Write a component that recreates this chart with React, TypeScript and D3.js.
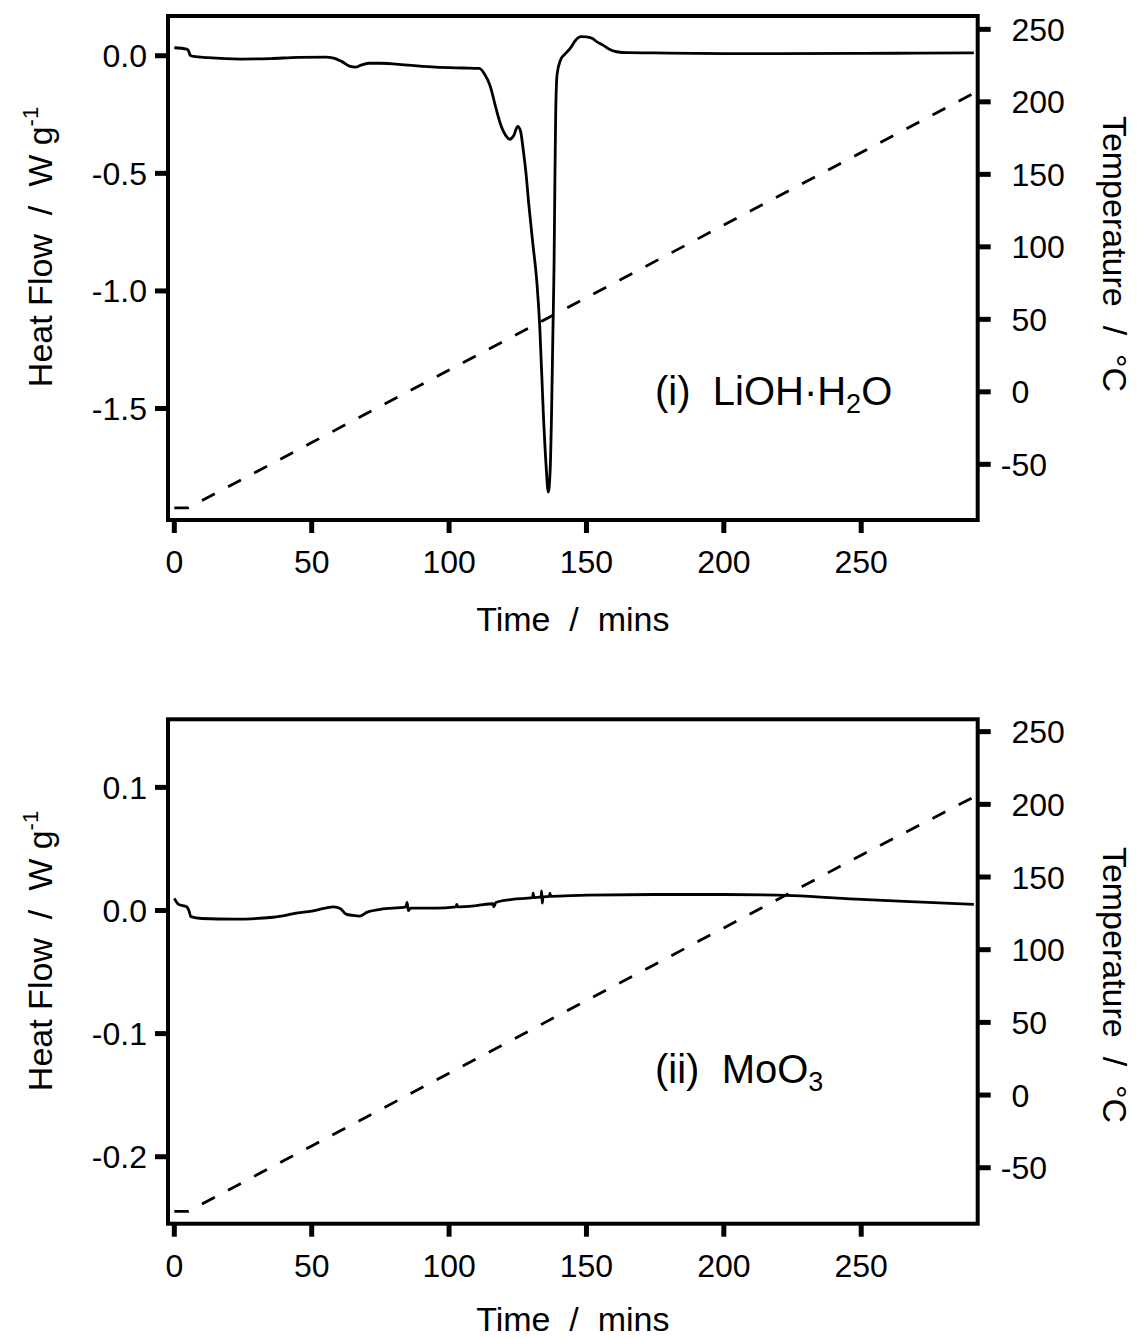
import React from 'react';
import * as d3 from 'd3';

// ---- data ----
const xTicks = [0, 50, 100, 150, 200, 250];
const tempTicks = [-50, 0, 50, 100, 150, 200, 250];
const heatTicksA = [0.0, -0.5, -1.0, -1.5];
const heatTicksB = [0.1, 0.0, -0.1, -0.2];

// (i) LiOH·H2O heat flow
const timeA = [0, 4.5, 5.2, 5.8, 7, 12, 24, 35, 45, 55, 58, 61, 64, 66, 68, 71, 75, 85, 95, 105, 111, 113, 115, 117, 119, 121, 122, 123.5, 125, 126, 127, 128, 129, 130.5, 132, 133, 134.3, 135.3, 136.1, 136.8, 137.3, 137.8, 138.2, 138.5, 138.8, 139.3, 140.5, 142, 144, 146, 148, 150, 152, 154, 156, 158, 161, 165, 175, 190, 220, 250, 270, 291];
const heatA = [0.034, 0.028, 0.02, 0.002, -0.003, -0.008, -0.014, -0.012, -0.007, -0.006, -0.01, -0.025, -0.045, -0.048, -0.04, -0.032, -0.032, -0.04, -0.048, -0.052, -0.054, -0.08, -0.13, -0.22, -0.3, -0.345, -0.355, -0.34, -0.3, -0.32, -0.4, -0.5, -0.63, -0.8, -0.97, -1.15, -1.52, -1.74, -1.855, -1.76, -1.52, -1.17, -0.9, -0.55, -0.25, -0.08, -0.02, 0.005, 0.03, 0.065, 0.081, 0.08, 0.074, 0.058, 0.045, 0.03, 0.017, 0.013, 0.012, 0.01, 0.009, 0.01, 0.011, 0.012];

// (ii) MoO3 heat flow
const timeB = [0, 1.5, 4.5, 5.3, 6, 10, 22, 36, 45, 50, 55, 58, 60.5, 62.5, 65, 67.5, 70, 75, 84.3, 84.7, 85.2, 86, 95, 102.5, 102.8, 103.1, 110, 116, 116.3, 117, 123, 130.4, 130.6, 130.9, 133.5, 133.7, 133.9, 134.2, 136.5, 136.7, 137, 150, 175, 200, 225, 250, 270, 291];
const heatB = [0.0098, 0.005, 0.003, 0.0, -0.005, -0.0065, -0.007, -0.0055, -0.002, -0.0005, 0.002, 0.003, 0.0015, -0.003, -0.004, -0.0045, -0.0015, 0.001, 0.003, 0.0065, 0.0, 0.002, 0.002, 0.003, 0.005, 0.003, 0.004, 0.0055, 0.003, 0.0065, 0.009, 0.0105, 0.014, 0.0105, 0.011, 0.016, 0.006, 0.011, 0.0115, 0.014, 0.0115, 0.0125, 0.013, 0.013, 0.012, 0.009, 0.007, 0.005];

// temperature programme (both runs)
const tempTime = [0, 5, 50, 100, 150, 200, 250, 292];
const tempA = [-80, -80, -35, 15, 65, 115, 165, 207];
const tempB = [-80, -80, -35, 15, 65, 115, 165, 206];

const FONT = "'Liberation Sans', Arial, Helvetica, sans-serif";
const LEFT = 168;
const RIGHT = 977.7;

type PanelProps = {
  top: number;
  bottom: number;
  heatDomain: [number, number];
  tempDomain: [number, number];
  heatTicks: number[];
  time: number[];
  heat: number[];
  temp: number[];
  leftTitleY: number;
  rightTitleY: number;
  xTitleY: number;
  labelMain: string;
  labelSub: string;
  labelTail: string;
  labelY: number;
  id: string;
};

function Panel(p: PanelProps) {
  const x = d3.scaleLinear().domain([-2.3, 292.4]).range([LEFT, RIGHT]);
  const yH = d3.scaleLinear().domain(p.heatDomain).range([p.bottom, p.top]);
  const yT = d3.scaleLinear().domain(p.tempDomain).range([p.bottom, p.top]);

  const heatPts = p.time.map((t, i) => [t, p.heat[i]] as [number, number]);
  const tempPts = tempTime.map((t, i) => [t, p.temp[i]] as [number, number]);

  const heatLine = d3.line<[number, number]>()
    .x(d => x(d[0]))
    .y(d => yH(d[1]))
    .curve(d3.curveMonotoneX);
  const tempLine = d3.line<[number, number]>()
    .x(d => x(d[0]))
    .y(d => yT(d[1]));

  const tickLen = 13;
  const tickW = 5;
  const fs = 32;

  return (
    <g>
      <defs>
        <clipPath id={`clip-${p.id}`}>
          <rect x={LEFT} y={p.top} width={RIGHT - LEFT} height={p.bottom - p.top} />
        </clipPath>
      </defs>
      <g clipPath={`url(#clip-${p.id})`}>
        <path d={tempLine(tempPts) || ''} fill="none" stroke="#000" strokeWidth={2.8} strokeDasharray="14.5,15" />
        <path d={heatLine(heatPts) || ''} fill="none" stroke="#000" strokeWidth={2.8} strokeLinejoin="round" />
      </g>
      {/* frame */}
      <rect x={LEFT} y={p.top} width={RIGHT - LEFT} height={p.bottom - p.top} fill="none" stroke="#000" strokeWidth={4} />

      {/* x ticks */}
      {xTicks.map(t => (
        <g key={`x${t}`}>
          <line x1={x(t)} x2={x(t)} y1={p.bottom} y2={p.bottom + tickLen} stroke="#000" strokeWidth={tickW} />
          <text x={x(t)} y={p.bottom + 53} textAnchor="middle" fontSize={fs} fontFamily={FONT}>{t}</text>
        </g>
      ))}

      {/* left ticks */}
      {p.heatTicks.map(v => (
        <g key={`h${v}`}>
          <line x1={LEFT - tickLen} x2={LEFT} y1={yH(v)} y2={yH(v)} stroke="#000" strokeWidth={tickW} />
          <text x={147} y={yH(v)} dy="0.36em" textAnchor="end" fontSize={fs} fontFamily={FONT}>{v.toFixed(1)}</text>
        </g>
      ))}

      {/* right ticks */}
      {tempTicks.map(v => (
        <g key={`t${v}`}>
          <line x1={RIGHT} x2={RIGHT + tickLen} y1={yT(v)} y2={yT(v)} stroke="#000" strokeWidth={tickW} />
          <text x={v < 0 ? 1011.5 - fs * 0.333 : 1011.5} y={yT(v)} dy="0.36em" textAnchor="start" fontSize={fs} fontFamily={FONT}>{String(v)}</text>
        </g>
      ))}

      {/* titles */}
      <text x={(LEFT + RIGHT) / 2} y={p.xTitleY} textAnchor="middle" fontSize={34} fontFamily={FONT} style={{ whiteSpace: 'pre' }}>{'Time  /  mins'}</text>
      <text transform={`translate(52,${p.leftTitleY}) rotate(-90)`} textAnchor="middle" fontSize={34} fontFamily={FONT} style={{ whiteSpace: 'pre' }}>
        {'Heat Flow  /  W g'}
        <tspan fontSize={22} dy={-14}>{'-1'}</tspan>
      </text>
      <text transform={`translate(1103,${p.rightTitleY}) rotate(90)`} textAnchor="middle" fontSize={34} fontFamily={FONT} style={{ whiteSpace: 'pre' }}>
        {'Temperature  /  °C'}
      </text>

      {/* sample label */}
      <text x={655} y={p.labelY} fontSize={40} fontFamily={FONT} style={{ whiteSpace: 'pre' }}>
        {p.labelMain}
        <tspan fontSize={27} dy={8}>{p.labelSub}</tspan>
        {p.labelTail ? <tspan fontSize={40} dy={-8}>{p.labelTail}</tspan> : null}
      </text>
    </g>
  );
}

export default function App() {
  return (
    <svg width={1138} height={1338} viewBox="0 0 1138 1338"
      style={{ position: 'absolute', left: 0, top: 0, display: 'block', background: '#fff' }}>
      <rect x={0} y={0} width={1138} height={1338} fill="#fff" />
      <Panel
        id="a"
        top={16}
        bottom={520}
        heatDomain={[-1.974, 0.169]}
        tempDomain={[-88.4, 259.2]}
        heatTicks={heatTicksA}
        time={timeA}
        heat={heatA}
        temp={tempA}
        leftTitleY={247}
        rightTitleY={254}
        xTitleY={631}
        labelMain={'(i)  LiOH·H'}
        labelSub={'2'}
        labelTail={'O'}
        labelY={405}
      />
      <Panel
        id="b"
        top={719.3}
        bottom={1223.7}
        heatDomain={[-0.2544, 0.1553]}
        tempDomain={[-88.5, 258.5]}
        heatTicks={heatTicksB}
        time={timeB}
        heat={heatB}
        temp={tempB}
        leftTitleY={951}
        rightTitleY={985}
        xTitleY={1331}
        labelMain={'(ii)  MoO'}
        labelSub={'3'}
        labelTail={''}
        labelY={1083}
      />
    </svg>
  );
}
